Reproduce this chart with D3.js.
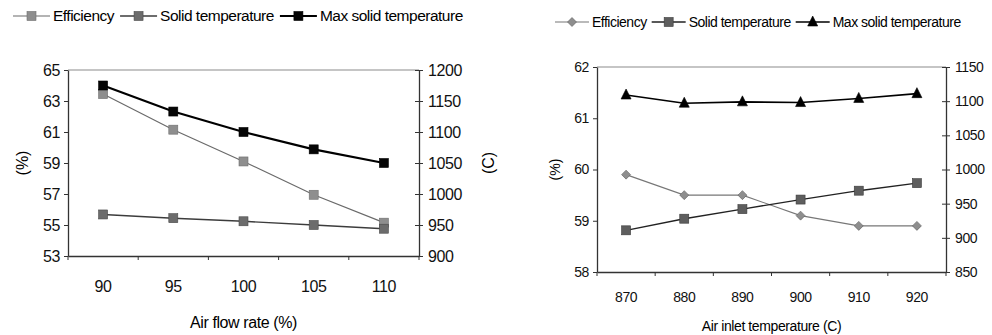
<!DOCTYPE html>
<html>
<head>
<meta charset="utf-8">
<script src="https://cdn.jsdelivr.net/npm/d3@7"></script>
<style>
  body { margin: 0; background: #fff; }
  svg { font-family: "Liberation Sans", Arial, sans-serif; }
</style>
</head>
<body>
<svg id="chart" width="992" height="335"></svg>
<script>
// left panel: air flow rate
const flowCats = ['90', '95', '100', '105', '110'];
const flowEfficiency = [63.45, 61.15, 59.1, 56.95, 55.15];
const flowSolidTemp = [967, 961, 956, 950, 944];
const flowMaxTemp = [1175, 1133, 1100, 1072, 1050];
const flowLeftTicks = [53, 55, 57, 59, 61, 63, 65];
const flowRightTicks = [900, 950, 1000, 1050, 1100, 1150, 1200];

// right panel: air inlet temperature
const inletCats = ['870', '880', '890', '900', '910', '920'];
const inletEfficiency = [59.9, 59.5, 59.5, 59.1, 58.9, 58.9];
const inletSolidTemp = [911, 928, 942, 956, 969, 980];
const inletMaxTemp = [1109, 1097, 1099, 1098, 1104, 1111];
const inletLeftTicks = [58, 59, 60, 61, 62];
const inletRightTicks = [850, 900, 950, 1000, 1050, 1100, 1150];

const legendNames = ['Efficiency', 'Solid temperature', 'Max solid temperature'];

const svg = d3.select('#chart');

function marker(sel, shape, size, fill, stroke) {
  if (shape === 'square') {
    sel.append('rect')
      .attr('x', -size / 2).attr('y', -size / 2)
      .attr('width', size).attr('height', size)
      .attr('fill', fill).attr('stroke', stroke).attr('stroke-width', 0.6);
  } else if (shape === 'diamond') {
    const s = size / 2;
    sel.append('path')
      .attr('d', `M0,${-s}L${s},0L0,${s}L${-s},0Z`)
      .attr('fill', fill).attr('stroke', stroke).attr('stroke-width', 0.6);
  } else {
    const s = size / 2;
    sel.append('path')
      .attr('d', `M0,${-s - 1}L${s},${s - 1}L${-s},${s - 1}Z`)
      .attr('fill', fill).attr('stroke', stroke).attr('stroke-width', 0.6);
  }
}

function drawChart(cfg) {
  const g = svg.append('g');
  const x = d3.scaleBand().domain(cfg.cats).range([cfg.x0, cfg.x1]);
  const yL = d3.scaleLinear().domain(d3.extent(cfg.leftTicks)).range([cfg.y1, cfg.y0]);
  const yR = d3.scaleLinear().domain(d3.extent(cfg.rightTicks)).range([cfg.y1, cfg.y0]);
  const fs = cfg.fontSize;

  // plot frame top (light)
  g.append('line')
    .attr('x1', cfg.x0).attr('x2', cfg.x1)
    .attr('y1', cfg.y0).attr('y2', cfg.y0)
    .attr('stroke', '#8c8c8c').attr('stroke-width', 1.2);

  // axes
  const axL = g.append('g').attr('transform', `translate(${cfg.x0},0)`)
    .call(d3.axisLeft(yL).tickValues(cfg.leftTicks).tickFormat(d3.format('d'))
      .tickSize(4).tickSizeOuter(0).tickPadding(4));
  const axR = g.append('g').attr('transform', `translate(${cfg.x1},0)`)
    .call(d3.axisRight(yR).tickValues(cfg.rightTicks).tickFormat(d3.format('d'))
      .tickSize(4).tickSizeOuter(0).tickPadding(5));
  axR.selectAll('.tick line').attr('x1', -4);
  const axB = g.append('g').attr('transform', `translate(0,${cfg.y1})`)
    .call(d3.axisBottom(x).tickSize(0).tickPadding(cfg.xPad));
  // tick marks at category boundaries
  const bounds = cfg.cats.map(c => x(c)).concat([cfg.x1]);
  axB.selectAll('.bound').data(bounds).join('line')
    .attr('class', 'bound')
    .attr('x1', d => d).attr('x2', d => d)
    .attr('y1', 0).attr('y2', 4)
    .attr('stroke', '#333');

  [axL, axR, axB].forEach(a => {
    a.select('.domain').attr('stroke', '#333').attr('stroke-width', 1.3);
    a.selectAll('.tick line').attr('stroke', '#333');
    a.selectAll('text').attr('font-size', fs).attr('fill', '#111')
      .attr('font-family', '"Liberation Sans", Arial, sans-serif')
      .attr('letter-spacing', -0.4);
  });

  // titles
  g.append('text')
    .attr('x', (cfg.x0 + cfg.x1) / 2).attr('y', cfg.xTitleY)
    .attr('text-anchor', 'middle').attr('font-size', fs).attr('letter-spacing', -0.4)
    .text(cfg.xTitle);
  g.append('text')
    .attr('transform', `translate(${cfg.yTitleX},${(cfg.y0 + cfg.y1) / 2}) rotate(-90)`)
    .attr('text-anchor', 'middle').attr('dy', '0.35em').attr('font-size', fs)
    .text('(%)');
  if (cfg.rTitleX) {
    g.append('text')
      .attr('transform', `translate(${cfg.rTitleX},${(cfg.y0 + cfg.y1) / 2}) rotate(-90)`)
      .attr('text-anchor', 'middle').attr('dy', '0.35em').attr('font-size', fs)
      .text('(C)');
  }

  // series
  cfg.series.forEach(s => {
    const yS = s.axis === 'left' ? yL : yR;
    const line = d3.line()
      .x((d, i) => x(cfg.cats[i]) + x.bandwidth() / 2)
      .y(d => yS(d));
    g.append('path')
      .datum(s.values)
      .attr('d', line)
      .attr('fill', 'none')
      .attr('stroke', s.line)
      .attr('stroke-width', s.width);
    s.values.forEach((v, i) => {
      const m = g.append('g')
        .attr('transform', `translate(${x(cfg.cats[i]) + x.bandwidth() / 2},${yS(v)})`);
      marker(m, s.shape, s.size, s.fill, s.stroke);
    });
  });

  // legend
  const lg = g.append('g').attr('transform', `translate(0,${cfg.legendY})`);
  let lx = cfg.legendX;
  cfg.series.forEach((s, i) => {
    lg.append('line')
      .attr('x1', lx).attr('x2', lx + cfg.legendLine)
      .attr('y1', 0).attr('y2', 0)
      .attr('stroke', s.line).attr('stroke-width', s.width);
    const m = lg.append('g').attr('transform', `translate(${lx + cfg.legendLine / 2},0)`);
    marker(m, s.shape, s.size, s.fill, s.stroke);
    const t = lg.append('text')
      .attr('x', lx + cfg.legendLine + 3).attr('y', 0).attr('dy', '0.35em')
      .attr('font-size', cfg.legendFont).attr('letter-spacing', -0.5)
      .text(legendNames[i]);
    lx += cfg.legendLine + 3 + t.node().getComputedTextLength() + cfg.legendGap;
  });
}

drawChart({
  cats: flowCats, leftTicks: flowLeftTicks, rightTicks: flowRightTicks,
  x0: 68, x1: 419, y0: 70, y1: 256, fontSize: 16, xPad: 25,
  xTitle: 'Air flow rate (%)', xTitleY: 328, yTitleX: 22, rTitleX: 488,
  legendX: 13, legendY: 16, legendLine: 37, legendGap: 6, legendFont: 15.5,
  series: [
    { values: flowEfficiency, axis: 'left', shape: 'square', size: 9, fill: '#8e8e8e', stroke: '#6e6e6e', line: '#6a6a6a', width: 1.2 },
    { values: flowSolidTemp, axis: 'right', shape: 'square', size: 9, fill: '#6c6c6c', stroke: '#4a4a4a', line: '#3c3c3c', width: 1.4 },
    { values: flowMaxTemp, axis: 'right', shape: 'square', size: 9, fill: '#050505', stroke: '#000', line: '#000', width: 2.2 }
  ]
});

drawChart({
  cats: inletCats, leftTicks: inletLeftTicks, rightTicks: inletRightTicks,
  x0: 597, x1: 946, y0: 67, y1: 272, fontSize: 14, xPad: 20,
  xTitle: 'Air inlet temperature (C)', xTitleY: 331, yTitleX: 555, rTitleX: null,
  legendX: 555, legendY: 22, legendLine: 34, legendGap: 5, legendFont: 14,
  series: [
    { values: inletEfficiency, axis: 'left', shape: 'diamond', size: 9, fill: '#8e8e8e', stroke: '#5e5e5e', line: '#777', width: 1.1 },
    { values: inletSolidTemp, axis: 'right', shape: 'square', size: 9, fill: '#5e5e5e', stroke: '#3a3a3a', line: '#222', width: 1.4 },
    { values: inletMaxTemp, axis: 'right', shape: 'triangle', size: 10, fill: '#000', stroke: '#000', line: '#000', width: 1.6 }
  ]
});
</script>
</body>
</html>
